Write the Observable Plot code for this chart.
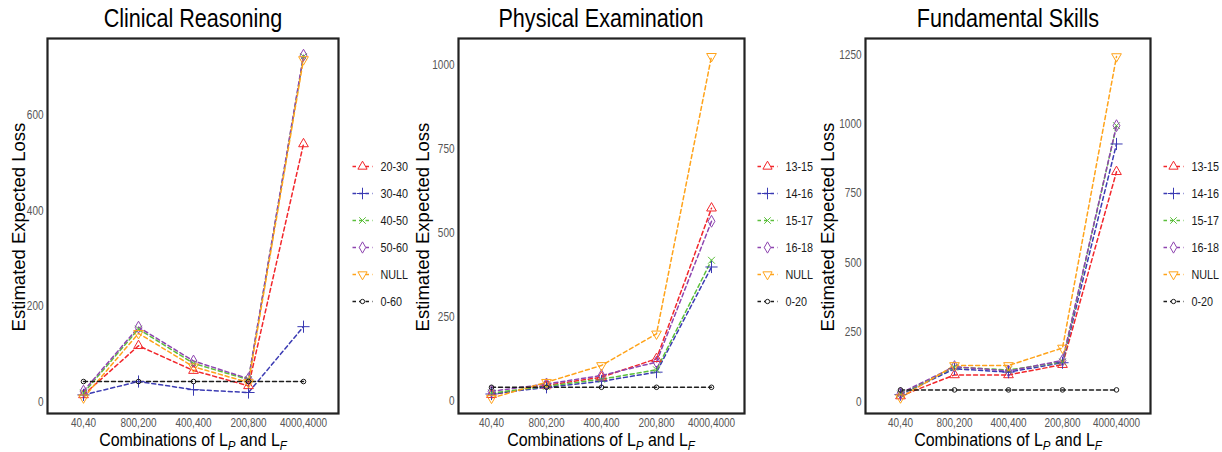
<!DOCTYPE html>
<html>
<head>
<meta charset="utf-8">
<script src="https://cdn.jsdelivr.net/npm/d3@7"></script>
<script src="https://cdn.jsdelivr.net/npm/@observablehq/plot@0.6"></script>
<style>
  body { margin: 0; background: #fff; font-family: "Liberation Sans", Arial, sans-serif; }
  #root { position: relative; width: 1222px; height: 452px; overflow: hidden; background: #fff; }
  .title { font-size: 26px; line-height: 26px; color: #000; white-space: nowrap; transform: translateX(-50%) scaleX(0.83); }
  .xlab { font-size: 19px; line-height: 19px; color: #000; white-space: nowrap; transform: translateX(-50%) scaleX(0.84); }
  .xlab sub { font-size: 0.72em; vertical-align: -0.28em; font-style: italic; line-height: 0; }
  .ylab { font-size: 18.5px; line-height: 18px; color: #000; white-space: nowrap; transform: translate(-50%, -50%) rotate(-90deg); }
</style>
</head>
<body>
<div id="root"></div>
<script>
// ---------- data ----------
const combos = ["40,40", "800,200", "400,400", "200,800", "4000,4000"];

const crGroups = ["20-30", "30-40", "40-50", "50-60", "NULL", "0-60"];
const cr_20_30 = [14, 117, 65, 33, 540];
const cr_30_40 = [14, 42, 25, 19, 157];
const cr_40_50 = [18, 152, 80, 46, 723];
const cr_50_60 = [22, 156, 85, 48, 726];
const cr_null  = [8, 143, 73, 40, 717];
const cr_base  = [42, 42, 42, 42, 42];

const peGroups = ["13-15", "14-16", "15-17", "16-18", "NULL", "0-20"];
const pe_13_15 = [20, 48, 72, 127, 575];
const pe_14_16 = [22, 42, 60, 87, 400];
const pe_15_17 = [25, 45, 66, 94, 420];
const pe_16_18 = [30, 52, 77, 117, 536];
const pe_null  = [10, 57, 107, 201, 1027];
const pe_base  = [42, 42, 42, 42, 42];

const fsGroups = ["13-15", "14-16", "15-17", "16-18", "NULL", "0-20"];
const fs_13_15 = [20, 96, 96, 133, 828];
const fs_14_16 = [25, 118, 106, 140, 928];
const fs_15_17 = [27, 124, 114, 143, 994];
const fs_16_18 = [30, 126, 110, 148, 994];
const fs_null  = [14, 130, 130, 193, 1243];
const fs_base  = [42, 42, 42, 42, 42];

const crTicks = [0, 200, 400, 600];
const peTicks = [0, 250, 500, 750, 1000];
const fsTicks = [0, 250, 500, 750, 1000, 1250];

// ---------- styles ----------
const colors  = ["#F2262B", "#3B3BB3", "#5CBF3C", "#8E45B0", "#FFA31A", "#1c1c1c"];
const symbols = ["triangle", "plus", "times", "diamond", "triangle", "circle"];
const radii   = [3.6, 4.0, 3.2, 3.6, 3.6, 2.3];
const rotates = [0, 0, 0, 0, 180, 0];
const dash = "4,3";

const panels = [
  { title: "Clinical Reasoning", groups: crGroups, values: [cr_20_30, cr_30_40, cr_40_50, cr_50_60, cr_null, cr_base],
    ticks: crTicks, domain: [-25, 761], left: 0, width: 340, marginLeft: 47, ylabX: 18.5, legendLeft: 352 },
  { title: "Physical Examination", groups: peGroups, values: [pe_13_15, pe_14_16, pe_15_17, pe_16_18, pe_null, pe_base],
    ticks: peTicks, domain: [-36, 1080], left: 410, width: 336, marginLeft: 48, ylabX: 423, legendLeft: 757 },
  { title: "Fundamental Skills", groups: fsGroups, values: [fs_13_15, fs_14_16, fs_15_17, fs_16_18, fs_null, fs_base],
    ticks: fsTicks, domain: [-43, 1308], left: 810, width: 342, marginLeft: 55, ylabX: 828, legendLeft: 1163 }
];

const root = document.getElementById("root");
const SVG_TOP = 30, SVG_H = 422, MT = 8, MB = 39, MR = 2;

function place(el, left, top) {
  el.style.position = "absolute";
  el.style.left = left + "px";
  el.style.top = top + "px";
  root.appendChild(el);
  return el;
}
function squeeze(sel, k) {
  sel.each(function () {
    const t = this.getAttribute("transform") || "";
    this.setAttribute("transform", t + " scale(" + k + ",1)");
  });
}

for (const p of panels) {
  const rows = [];
  p.groups.forEach((g, i) => p.values[i].forEach((v, j) => rows.push({ g, i, combo: combos[j], v })));
  const marks = [];
  p.groups.forEach((g, i) => {
    marks.push(Plot.line(rows.filter(r => r.i === i), {
      x: "combo", y: "v", stroke: colors[i], strokeWidth: 1.5, strokeDasharray: dash
    }));
  });
  p.groups.forEach((g, i) => {
    marks.push(Plot.dot(rows.filter(r => r.i === i), {
      x: "combo", y: "v", stroke: colors[i], fill: "none", symbol: symbols[i],
      r: radii[i], rotate: rotates[i], strokeWidth: 1
    }));
  });
  marks.push(Plot.frame({ stroke: "#222", strokeWidth: 2.2 }));

  const chart = Plot.plot({
    width: p.width, height: SVG_H,
    marginTop: MT, marginBottom: MB, marginLeft: p.marginLeft, marginRight: MR,
    style: { fontFamily: "Liberation Sans, Arial, sans-serif", fontSize: "12.5px", color: "#555", background: "transparent", overflow: "visible" },
    x: { type: "point", domain: combos, padding: 0.6, label: null, tickSize: 0, tickPadding: 5 },
    y: { domain: p.domain, ticks: p.ticks, label: null, tickSize: 0, tickPadding: 4, tickFormat: d => String(d) },
    marks
  });
  squeeze(d3.select(chart).selectAll('g[aria-label$="tick label"] text'), 0.8);
  place(chart, p.left, SVG_TOP);

  const frameCenter = p.left + p.marginLeft + (p.width - p.marginLeft - MR) / 2;

  const t = document.createElement("div");
  t.className = "title";
  t.textContent = p.title;
  place(t, frameCenter, 5);

  const xl = document.createElement("div");
  xl.className = "xlab";
  xl.innerHTML = "Combinations of L<sub>P</sub> and L<sub>F</sub>";
  place(xl, frameCenter, 430);

  const yl = document.createElement("div");
  yl.className = "ylab";
  yl.textContent = "Estimated Expected Loss";
  place(yl, p.ylabX, 227);

  // legend
  const items = p.groups.map((g, i) => ({ g, i }));
  const lmarks = [];
  items.forEach(d => {
    lmarks.push(Plot.link([d], { x1: () => 0, x2: () => 20, y1: "g", y2: "g", stroke: colors[d.i], strokeWidth: 1.5, strokeDasharray: "3.5,3" }));
    lmarks.push(Plot.dot([d], { x: () => 10, y: "g", stroke: colors[d.i], fill: "white", symbol: symbols[d.i], r: radii[d.i] * 0.95, rotate: rotates[d.i], strokeWidth: 1 }));
  });
  lmarks.push(Plot.text(items, { x: () => 28, y: "g", text: "g", textAnchor: "start", fill: "#1a1a1a", fontSize: 13.5 }));
  const leg = Plot.plot({
    width: 62, height: 200, margin: 0,
    style: { fontFamily: "Liberation Sans, Arial, sans-serif", background: "transparent", overflow: "visible" },
    x: { type: "linear", domain: [0, 62], range: [0, 62], axis: null },
    y: { type: "point", domain: p.groups, range: [16, 178], axis: null },
    marks: lmarks
  });
  squeeze(d3.select(leg).selectAll('g[aria-label="text"] text'), 0.8);
  place(leg, p.legendLeft, 136);
}
</script>
</body>
</html>
